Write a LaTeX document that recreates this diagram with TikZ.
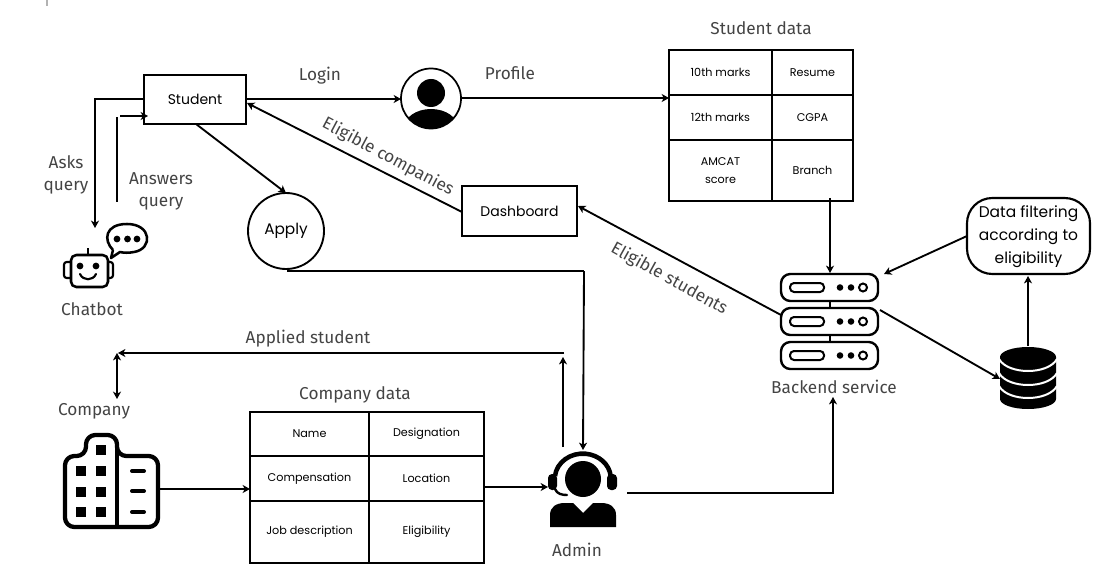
\documentclass[tikz,border=0pt]{standalone}
\usepackage{fontspec}
\setmainfont{Fira Sans}
\newfontfamily\inner{Poppins}
\usetikzlibrary{arrows.meta}
\definecolor{lab}{HTML}{444444}
\tikzset{
  x=0.75pt,y=-0.75pt,
  >={Stealth[length=5.5pt,width=6pt,inset=1.5pt]},
  conn/.style={line width=1.4pt,black},
  lbl/.style={text=lab,font=\fontsize{12.9}{17}\selectfont,align=center,inner sep=0pt},
  boxtxt/.style={text=black,font=\inner\fontsize{10.5}{13}\selectfont,align=center},
  cell/.style={draw=black,line width=1.3pt,inner sep=0pt,outer sep=0pt,text=black,font=\inner\fontsize{8.4}{13}\selectfont,align=center},
  iconline/.style={line width=1.6pt,black,line join=round},
}
\newcommand{\cellbox}[6]{\node[cell,minimum width={(#4-#2)*0.75pt},minimum height={(#5-#3)*0.75pt}] (#1) at ({(#2+#4)/2},{(#3+#5)/2}) {#6};}
\newcommand{\serverunit}[1]{%
  \draw[line width=1.8pt,rounded corners=7pt] (781,#1) rectangle (878,#1+27);
  \draw[line width=1.5pt,rounded corners=3pt] (790,#1+9) rectangle (824,#1+18);
  \fill (840,#1+13.5) circle (3.3);
  \fill (851,#1+13.5) circle (3.3);
  \draw[line width=1.5pt] (863,#1+13.5) circle (4);
}
\begin{document}
\begin{tikzpicture}
\useasboundingbox (0,0) rectangle (1119,577);
\fill[white] (0,0) rectangle (1119,577);
\draw[black!30,line width=0.8pt] (47,0) -- (47,6);

% boxes
\node[draw,line width=1.6pt,minimum width={102*0.75pt},minimum height={49*0.75pt},inner sep=0pt,outer sep=0pt,boxtxt] (student) at (195,99.5) {Student};
\node[draw,line width=1.6pt,minimum width={115*0.75pt},minimum height={50*0.75pt},inner sep=0pt,outer sep=0pt,boxtxt] (dash) at (519.5,211) {Dashboard};
\node[draw,line width=1.4pt,circle,minimum size={76*0.75pt},inner sep=0pt,outer sep=0pt,boxtxt,font=\inner\fontsize{11.5}{13}\selectfont] (apply) at (286,231) {\raisebox{-1.5pt}{Apply}};
\node[draw,line width=1.6pt,rounded corners=19pt,minimum width={123*0.75pt},minimum height={76*0.75pt},inner sep=0pt,outer sep=0pt,boxtxt,font=\inner\fontsize{11.6}{17}\selectfont] (filter) at (1028.5,236) {\raisebox{-1.5pt}{\begin{tabular}{@{}c@{}}Data filtering\\according to\\eligibility\end{tabular}}};

% student table
\cellbox{tenth}{669}{50}{772}{95}{10th marks}
\cellbox{resume}{772}{50}{853}{95}{Resume}
\cellbox{twelfth}{669}{95}{772}{140}{12th marks}
\cellbox{cgpa}{772}{95}{853}{140}{CGPA}
\cellbox{amcat}{669}{140}{772}{201}{AMCAT\\score}
\cellbox{branch}{772}{140}{853}{201}{Branch}
% company table
\cellbox{cname}{250}{412}{369}{456}{Name}
\cellbox{desig}{369}{412}{484}{456}{Designation}
\cellbox{comp}{250}{456}{369}{501}{Compensation}
\cellbox{loc}{369}{456}{484}{501}{Location}
\cellbox{job}{250}{501}{369}{563}{Job description}
\cellbox{elig}{369}{501}{484}{563}{Eligibility}

% profile icon
\node[circle,minimum size={60*0.75pt},inner sep=0pt,outer sep=0pt] (profile) at (431,98.5) {};
\begin{scope}
  \clip (431,98.5) circle (30);
  \fill (431,93) circle (14);
  \fill (431,128) ellipse (27 and 19);
\end{scope}
\draw[line width=1.3pt] (431,98.5) circle (30);

% chatbot icon
\node[minimum width={86*0.75pt},minimum height={64*0.75pt},inner sep=0pt] (bot) at (106,256) {};
\draw[line width=1.9pt,line join=round,rounded corners=4pt] (71,255) rectangle (108,287);
\draw[iconline] (88,255) -- (88,248);
\draw[iconline,rounded corners=2pt] (71,262) -- (64,262) -- (64,278) -- (71,278);
\draw[iconline,rounded corners=2pt] (108,262) -- (113,262) -- (113,278) -- (108,278);
\fill (80,266) circle (3.4);
\fill (96,266) circle (3.4);
\draw[iconline,line cap=round] (80,274) .. controls (83,281) and (93,281) .. (96,274);
\draw[line width=1.9pt,line join=round] (113,250) .. controls (103,240) and (105,224) .. (127,224) .. controls (152,224) and (153,249) .. (134,252) .. controls (129,253) and (124,253) .. (120,252) -- (111,258) -- (113,250);
\fill (117,239) circle (3.4);
\fill (127.5,239) circle (3.4);
\fill (137,239) circle (3.4);

% server icon
\node[minimum width={97*0.75pt},minimum height={95*0.75pt},inner sep=0pt,outer sep=0pt] (server) at (829.5,321.5) {};
\serverunit{274}
\serverunit{308}
\serverunit{342}
\draw[line width=1.8pt] (830,301) -- (830,308);
\draw[line width=1.8pt] (830,335) -- (830,342);

% database icon
\node[minimum width={56*0.75pt},minimum height={62*0.75pt},inner sep=0pt,outer sep=0pt] (db) at (1028,378) {};
\fill (1000,357) arc[start angle=180,end angle=360,x radius=28,y radius=10] -- (1056,399) arc[start angle=0,end angle=180,x radius=28,y radius=10] -- cycle;
\draw[white,line width=1.5pt] (999,359) .. controls (1008,375) and (1048,375) .. (1057,359);
\draw[white,line width=1.5pt] (999,373) .. controls (1008,389) and (1048,389) .. (1057,373);
\draw[white,line width=1.5pt] (999,386) .. controls (1008,402) and (1048,402) .. (1057,386);

% building icon
\node[minimum width={97*0.75pt},minimum height={97*0.75pt},inner sep=0pt,outer sep=0pt] (building) at (111.5,481) {};
\draw[line width=3.2pt,line join=round,rounded corners=7pt] (100,527) -- (65,527) -- (65,456) -- (86,456) -- (86,435) -- (117,435) -- (117,456) -- (158,456) -- (158,527) -- (100,527);
\draw[line width=3.2pt] (117,445) -- (117,527);
\foreach \wx/\wy in {101/450,81/471,101/471,81/492,101/492,81/512,101/512}{
  \fill (\wx-5,\wy-5) rectangle (\wx+5,\wy+5);
}
\foreach \wy in {471,491,512}{
  \draw[line width=3pt,line cap=round] (132,\wy) -- (144,\wy);
}

% admin icon
\node[minimum width={69*0.75pt},minimum height={78*0.75pt},inner sep=0pt,outer sep=0pt] (admin) at (583,489.5) {};
\fill (583,479) circle (18);
\draw[line width=3.4pt] (555,476) arc[start angle=186,end angle=354,x radius=28,y radius=25];
\fill[rounded corners=3pt] (548,474) rectangle (557,490);
\fill[rounded corners=3pt] (607,474) rectangle (617,490);
\draw[line width=1.8pt,line cap=round] (555,489) .. controls (557,494) and (562,495) .. (567,495);
\fill (550,527) -- (550,515) .. controls (550,507) and (556,503) .. (565,503) -- (573,503) -- (583,513) -- (593,503) -- (601,503) .. controls (610,503) and (616,507) .. (616,515) -- (616,527) -- cycle;

% free ends
\coordinate (askA) at (144,99);
\coordinate (askB) at (95,99);
\coordinate (askC) at (95,228);
\coordinate (ansA) at (117,202);
\coordinate (ansB) at (117,117);
\coordinate (ansC) at (120,116);
\coordinate (ansD) at (148,116);
\coordinate (appTop) at (286,193);
\coordinate (stuBot) at (196,124);
\coordinate (appOut) at (287,271);
\coordinate (appCorner) at (584,271);
\coordinate (adminTop) at (583,450);
\coordinate (adminUp) at (563,447);
\coordinate (upEnd) at (563,357);
\coordinate (longR) at (564,353);
\coordinate (longL) at (118,353);
\coordinate (compTop) at (117,353);
\coordinate (compEnd) at (117,399);
\coordinate (admOut) at (627,493);
\coordinate (admCorner) at (833,493);
\coordinate (backEnd) at (833,397);
\coordinate (branchOut) at (830,198);
\coordinate (serverTop) at (830,273);
\coordinate (servL) at (781,315);
\coordinate (dashE) at (578,206);
\coordinate (dashW) at (462,212);
\coordinate (stuE) at (247,103);
\coordinate (filtW) at (967,236);
\coordinate (servNE) at (884,274);
\coordinate (servR) at (880,310);
\coordinate (dbL) at (1000,379);
\coordinate (dbTop) at (1028,346);
\coordinate (filtB) at (1028,276);
\coordinate (stuOutR) at (246,99);

% connectors
\draw[conn,->] (askA) -- (askB) -- (askC);
\draw[conn] (ansA) -- (ansB);
\draw[conn,->] (ansC) -- (ansD);
\draw[conn,->] (stuBot) -- (appTop);
\draw[conn] (appOut) -- (appCorner);
\draw[conn,->] (appCorner) -- (adminTop);
\draw[conn,->] (adminUp) -- (upEnd);
\draw[conn,->] (longR) -- (longL);
\draw[conn,<->] (compTop) -- (compEnd);
\draw[conn,->] (building.east |- 0,489) -- (comp.west |- 0,489);
\draw[conn,->] (loc.east |- 0,487) -- (548,487);
\draw[conn,->] (admOut) -- (admCorner) -- (backEnd);
\draw[conn,->] (stuOutR) -- (profile.west |- 0,99);
\draw[conn,->] (profile.east |- 0,98) -- (tenth.west |- 0,98);
\draw[conn,->] (branchOut) -- (serverTop);
\draw[conn,->] (servL) -- (dashE);
\draw[conn,->] (dashW) -- (stuE);
\draw[conn,->] (filtW) -- (servNE);
\draw[conn,->] (servR) -- (dbL);
\draw[conn,->] (dbTop) -- (filtB);

% labels
\node[lbl] (lLogin) at (320,75.5) {Login};
\node[lbl] (lProfile) at (510,73.5) {Profile};
\node[lbl] (lAsks) at (66,175) {Asks\\query};
\node[lbl] (lAns) at (161,191.5) {Answers\\query};
\node[lbl] (lChat) at (92,309) {Chatbot};
\node[lbl] (lSD) at (761,28) {Student data};
\node[lbl,rotate=-28] (lEC) at (388,157) {Eligible companies};
\node[lbl,rotate=-29] (lES) at (669,279) {Eligible students};
\node[lbl] (lBack) at (834,386.5) {Backend service};
\node[lbl] (lApplied) at (308,339) {Applied student};
\node[lbl] (lCD) at (355,394.5) {Company data};
\node[lbl] (lComp) at (94,411) {Company};
\node[lbl] (lAdmin) at (577,550) {Admin};
\end{tikzpicture}
\end{document}
